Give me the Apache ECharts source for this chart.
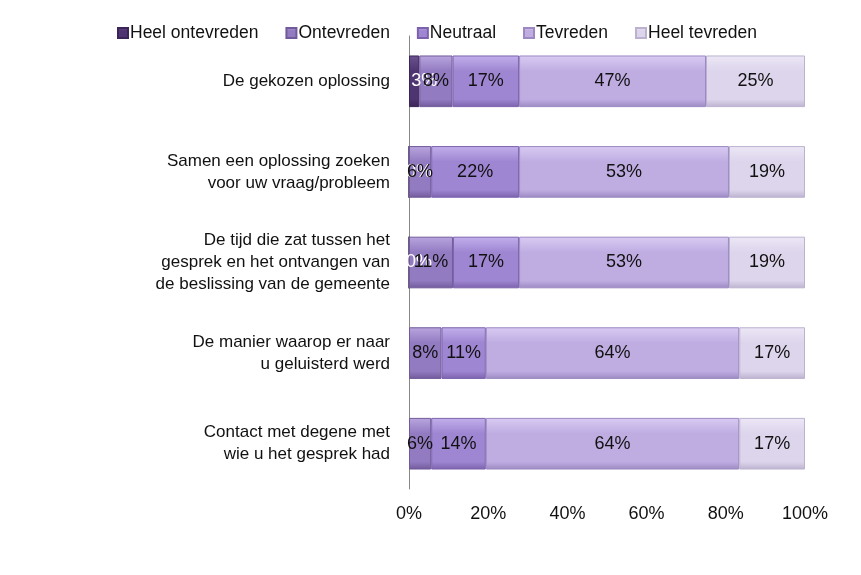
<!DOCTYPE html>
<html>
<head>
<meta charset="utf-8">
<script src="https://cdn.jsdelivr.net/npm/echarts@6/dist/echarts.min.js"></script>
<style>html,body{margin:0;padding:0;background:#fff}#c{width:861px;height:575px}</style>
</head>
<body>
<div id="c"></div>
<script>
const categories = [
  'De gekozen oplossing',
  'Samen een oplossing zoeken\nvoor uw vraag/probleem',
  'De tijd die zat tussen het\ngesprek en het ontvangen van\nde beslissing van de gemeente',
  'De manier waarop er naar\nu geluisterd werd',
  'Contact met degene met\nwie u het gesprek had'
];
const seriesNames = ['Heel ontevreden', 'Ontevreden', 'Neutraal', 'Tevreden', 'Heel tevreden'];
const heelOntevreden = [2.6, 0, 0, null, null];
const ontevreden = [8.4, 5.6, 11.1, 8.2, 5.6];
const neutraal = [16.8, 22.2, 16.7, 11.2, 13.8];
const tevreden = [47.2, 53.0, 53.0, 64.0, 64.0];
const heelTevreden = [25.0, 19.2, 19.2, 16.6, 16.6];
const xTicks = ['0%', '20%', '40%', '60%', '80%', '100%'];

const values = [heelOntevreden, ontevreden, neutraal, tevreden, heelTevreden];
const baseColors = ['#4e3470', '#937bc2', '#9f86d2', '#bfade2', '#ddd5ec'];
const lightColors = ['#6d5290', '#b9a6de', '#c2b0ec', '#d8cbf2', '#ece7f6'];
const darkColors = ['#3a2556', '#715a9a', '#7c62ad', '#9c89c2', '#bcb2d0'];
const labelColors = ['#ffffff', '#111', '#111', '#111', '#111'];
const labelOffsets = [[10, 0], [0, 0], [0, 0], [0, 0], [0, 0]];

const chart = echarts.init(document.getElementById('c'));
const font = 'Liberation Sans, Arial, sans-serif';
chart.setOption({
  animation: false,
  textStyle: { fontFamily: font },
  legend: {
    top: 19, left: 112,
    itemWidth: 10, itemHeight: 10, itemGap: 27,
    icon: 'rect',
    textStyle: { fontSize: 17.5, color: '#111', fontFamily: font, padding: [0, 0, 0, -3] },
    data: seriesNames
  },
  grid: { left: 409, right: 56, top: 36, bottom: 86 },
  xAxis: {
    type: 'value', min: 0, max: 100, interval: 20,
    axisLine: { show: false }, axisTick: { show: false },
    splitLine: { show: false },
    axisLabel: {
      fontSize: 18, color: '#111', margin: 16, fontFamily: font,
      formatter: v => xTicks[Math.round(v / 20)]
    }
  },
  yAxis: {
    type: 'category', data: categories, inverse: true,
    axisLine: { show: true, lineStyle: { color: '#888', width: 1 } },
    axisTick: { show: false },
    axisLabel: { fontSize: 17, color: '#111', margin: 19, lineHeight: 22, align: 'right', fontFamily: font }
  },
  series: values.map((arr, i) => ({
    name: seriesNames[i],
    type: 'bar',
    stack: 'total',
    barWidth: '57%',
    data: arr.map(v => v === null ? '-' : v),
    itemStyle: {
      color: new echarts.graphic.LinearGradient(0, 0, 0, 1, [
        { offset: 0, color: lightColors[i] },
        { offset: 0.3, color: baseColors[i] },
        { offset: 0.85, color: baseColors[i] },
        { offset: 1, color: darkColors[i] }
      ]),
      borderColor: darkColors[i],
      borderWidth: 1
    },
    label: {
      show: true, position: 'inside',
      offset: labelOffsets[i],
      fontSize: 18, color: labelColors[i], fontFamily: font,
      formatter: p => Math.round(p.value) + '%'
    }
  }))
});
</script>
</body>
</html>
